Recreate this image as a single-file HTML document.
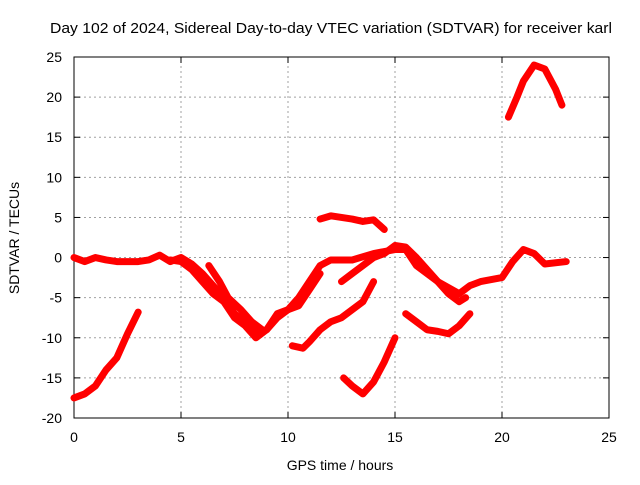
<!DOCTYPE html>
<html><head><meta charset="utf-8"><style>
body{margin:0;background:#fff}
svg text{font-family:"Liberation Sans",sans-serif;font-size:14px;fill:#000}
</style></head><body>
<svg id="chart" width="640" height="480" viewBox="0 0 640 480" xmlns="http://www.w3.org/2000/svg">
<text x="50" y="33" textLength="562" lengthAdjust="spacingAndGlyphs" style="font-size:15px">Day 102 of 2024, Sidereal Day-to-day VTEC variation (SDTVAR) for receiver karl</text>
<g id="grid"></g>
<g id="axes"></g>
<g id="series"></g>
<text x="340" y="470" text-anchor="middle">GPS time / hours</text>
<text transform="translate(19,238) rotate(-90)" text-anchor="middle">SDTVAR / TECUs</text>
</svg>
<script>
const xTicks=[0,5,10,15,20,25];
const yTicks=[-20,-15,-10,-5,0,5,10,15,20,25];
const s1x=[0,0.5,1,1.5,2,2.5,3];
const s1y=[-17.5,-17,-16,-14,-12.5,-9.5,-6.8];
const s2x=[0,0.5,1,1.5,2,3,3.5,4,4.5,5,5.5,6,6.5,7,7.5,8,8.5,9,9.5,10,10.5,11,11.5,12,13,14,15,15.5,16,17,18,18.5,19,20,20.5,21,21.5,22,23];
const s2y=[0,-0.5,0,-0.3,-0.5,-0.5,-0.3,0.3,-0.5,0,-0.8,-2,-3.5,-5,-7,-8,-9.5,-9,-7.5,-6.5,-5,-3,-1,-0.3,-0.3,0.5,1,1,-1,-3,-4.5,-3.5,-3,-2.5,-0.5,1,0.5,-0.8,-0.5];
const s3x=[4.5,5,5.5,6,6.5,7,7.5,8,8.5,9,9.5,10,10.5,11,11.5];
const s3y=[-0.3,-0.5,-1.5,-3,-4.5,-5.5,-7.5,-8.5,-10,-9,-7,-6.5,-6,-4,-2];
const s4x=[6.3,6.8,7.2,7.8,8.3,8.8];
const s4y=[-1,-3,-5,-6.5,-8,-9];
const s5x=[10.2,10.7,11,11.5,12,12.5,13,13.5,14];
const s5y=[-11,-11.3,-10.5,-9,-8,-7.5,-6.5,-5.5,-3];
const s6x=[11.5,12,13,13.5,14,14.5];
const s6y=[4.8,5.2,4.8,4.5,4.7,3.5];
const s7x=[12.5,13,13.5,14,14.5,15,15.5,16,16.5,17,17.5,18,18.3];
const s7y=[-3,-2,-1,0,0.5,1.5,1.3,0,-1.5,-3,-4.5,-5.5,-5];
const s8x=[12.6,13,13.5,14,14.5,15];
const s8y=[-15,-16,-17,-15.5,-13,-10];
const s9x=[15.5,16,16.5,17,17.5,18,18.5];
const s9y=[-7,-8,-9,-9.2,-9.5,-8.5,-7];
const s10x=[20.3,20.7,21,21.5,22,22.5,22.8];
const s10y=[17.5,20,22,24,23.5,21,19];
const seriesX=[s1x,s2x,s3x,s4x,s5x,s6x,s7x,s8x,s9x,s10x];
const seriesY=[s1y,s2y,s3y,s4y,s5y,s6y,s7y,s8y,s9y,s10y];

const X0=74,X1=609,Y0=418,Y1=57;
const xs=v=>X0+(v-0)/(25-0)*(X1-X0);
const ys=v=>Y0-(v+20)/(45)*(Y0-Y1);
const NS="http://www.w3.org/2000/svg";
function mk(t,a,p){const e=document.createElementNS(NS,t);for(const k in a)e.setAttribute(k,a[k]);p.appendChild(e);return e;}
const grid=document.getElementById('grid'),axes=document.getElementById('axes'),ser=document.getElementById('series');
xTicks.forEach(t=>{const x=xs(t);
 if(t>0&&t<25){const l=mk('line',{x1:x,y1:Y0,x2:x,y2:Y1,stroke:'#a0a0a0','stroke-dasharray':'2,3'},grid);
 }
 mk('line',{x1:x,y1:Y0,x2:x,y2:Y0-6,stroke:'#000'},axes);mk('line',{x1:x,y1:Y1,x2:x,y2:Y1+6,stroke:'#000'},axes);
 const tx=mk('text',{x:x,y:Y0+24,'text-anchor':'middle'},axes);tx.textContent=t;
 });
yTicks.forEach(t=>{const y=ys(t);
 if(t>-20&&t<25){const l=mk('line',{x1:X0,y1:y,x2:X1,y2:y,stroke:'#a0a0a0','stroke-dasharray':'2,3'},grid);
 }
 mk('line',{x1:X0,y1:y,x2:X0+6,y2:y,stroke:'#000'},axes);mk('line',{x1:X1,y1:y,x2:X1-6,y2:y,stroke:'#000'},axes);
 const tx=mk('text',{x:X0-12,y:y+5,'text-anchor':'end'},axes);tx.textContent=t;
 });
const fr=mk('rect',{x:X0,y:Y1,width:X1-X0,height:Y0-Y1,fill:'none',stroke:'#000'},axes);

seriesX.forEach((sx,i)=>{const sy=seriesY[i];
 const pts=sx.map((v,j)=>xs(v)+','+ys(sy[j])).join(' ');
 const pl=mk('polyline',{points:pts,fill:'none',stroke:'#f00','stroke-width':7,'stroke-linejoin':'round','stroke-linecap':'round'},ser);
 
 });
</script>
</body></html>
